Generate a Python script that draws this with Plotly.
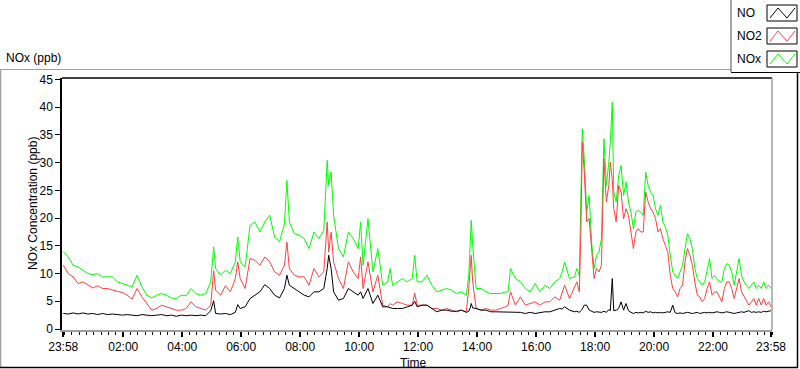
import plotly.graph_objects as go

# ---- data (minutes after 23:58 start, concentrations in ppb) ----
minutes_a = [0, 10, 20, 30, 40, 50, 60, 70, 80, 90, 100, 110, 120, 130, 140, 150, 160, 170, 180, 190,
             200, 210, 220, 230, 240, 250, 260, 270, 280, 290, 300, 306, 310, 320, 330, 340, 350, 355]
minutes_b = [360, 370, 380, 390, 400, 410, 420, 430, 440, 450, 455, 460, 470, 480, 490, 500, 510, 520, 530,
             537, 540, 545, 550, 560, 570, 580, 590, 600, 605, 610, 620, 630, 640, 650, 660, 665, 670, 680,
             690, 700, 710, 715, 720]
minutes_c = [730, 740, 750, 760, 770, 780, 790, 800, 810, 820, 825, 828, 830, 833, 840, 850, 860, 870, 880,
             890, 900, 905, 910, 920, 930, 940, 950, 960, 970, 980, 990, 1000, 1010, 1015, 1020, 1030, 1040,
             1045, 1050, 1053, 1056, 1060, 1065, 1070, 1075, 1080, 1085, 1090]
minutes_d = [1095, 1100, 1105, 1110, 1113, 1117] + list(range(1120, 1445, 5))
minutes = minutes_a + minutes_b + minutes_c + minutes_d

nox = [14.0, 13.0, 11.5, 11.2, 10.6, 10.0, 9.8, 10.0, 9.4, 9.4, 9.4, 8.5, 8.2, 7.9, 7.6, 9.7, 7.6, 6.1, 5.6, 6.1,
       6.4, 6.1, 5.6, 5.5, 6.1, 6.0, 7.3, 6.4, 6.1, 6.4, 8.5, 14.8, 10.9, 9.7, 10.6, 10.0, 12.1, 16.6,
       12.1, 11.2, 18.7, 19.3, 17.5, 19.3, 20.5, 16.6, 15.7, 19.0, 26.8, 19.3, 17.2, 16.9, 16.3, 14.5, 17.5, 16.3, 17.8,
       30.4, 25.9, 28.3, 20.5, 14.5, 13.0, 17.5, 16.3, 14.5, 19.3, 11.5, 19.9, 10.3, 14.5, 7.9, 8.5, 10.9, 7.9, 8.5,
       9.1, 8.5, 9.1, 13.3, 8.5,
       8.5, 9.7, 7.9, 6.7, 7.0, 7.3, 7.0, 6.4, 6.7, 6.1, 9.7, 14.5, 19.6, 15.1, 7.3, 7.3, 6.7, 6.4, 6.4,
       6.4, 6.7, 6.7, 10.9, 9.1, 8.5, 7.3, 6.7, 8.2, 6.7, 7.9, 7.3, 8.5, 9.1, 10.3, 12.1, 9.1, 9.4,
       10.9, 9.7, 20.5, 36.1, 30.7, 21.1, 24.1, 15.7, 10.9, 13.3, 13.9,
       16.3, 34.3, 25.9, 30.1, 33.7, 40.9,
       24.7, 22.9, 27.7, 29.5, 24.1, 26.5, 22.9, 21.1, 18.1, 21.1, 21.4, 21.1, 20.5, 28.3, 25.9, 24.7, 24.1,
       21.7, 20.5, 22.3, 19.3, 18.4, 16.9, 13.3, 10.3, 9.7, 9.1, 10.3, 11.5, 14.5, 17.2, 16.3, 14.5, 10.9,
       9.1, 8.5, 7.9, 8.5, 10.9, 12.7, 9.1, 9.7, 9.1, 8.5, 8.5, 10.9, 11.8, 11.5, 10.3, 7.9, 10.3, 12.7,
       9.7, 8.5, 7.9, 7.3, 7.9, 8.5, 7.3, 7.9, 7.3, 8.5, 7.3, 7.9, 7.3]

no2 = [11.5, 10.0, 9.4, 8.2, 8.5, 7.9, 7.4, 7.8, 7.3, 7.3, 7.0, 6.8, 6.6, 6.1, 5.4, 7.3, 5.8, 4.6, 3.4, 3.7,
       4.3, 4.0, 3.7, 3.4, 3.4, 3.7, 4.9, 4.0, 3.7, 3.4, 4.3, 10.5, 7.0, 6.1, 7.8, 6.7, 9.1, 12.1,
       9.1, 7.3, 12.7, 12.4, 11.5, 13.0, 12.1, 10.3, 9.7, 11.5, 15.7, 10.9, 9.7, 9.4, 9.4, 7.9, 10.9, 9.4, 10.3,
       19.3, 13.9, 17.5, 12.1, 9.1, 7.3, 12.1, 10.3, 9.1, 13.0, 7.3, 12.1, 6.7, 9.7, 4.3, 4.0, 4.6, 4.3, 4.9,
       4.6, 4.3, 4.3, 6.5, 4.3,
       4.3, 4.3, 3.7, 3.7, 3.4, 3.7, 3.4, 3.1, 3.4, 3.1, 7.3, 10.9, 13.3, 8.5, 3.7, 3.4, 3.7, 3.4, 3.4,
       3.7, 4.0, 4.3, 6.7, 4.3, 5.8, 4.3, 4.6, 4.9, 4.3, 4.9, 4.9, 5.8, 5.2, 6.7, 7.9, 5.5, 7.3,
       8.5, 6.7, 16.9, 33.7, 28.3, 19.3, 19.9, 14.5, 9.1, 10.9, 10.3,
       11.5, 30.7, 22.9, 25.9, 30.1, 27.0,
       21.7, 19.3, 25.9, 24.7, 19.9, 21.7, 20.5, 17.5, 14.5, 17.5, 18.1, 17.5, 17.5, 24.7, 22.9, 21.7, 21.1,
       19.9, 17.5, 18.1, 16.3, 15.1, 13.9, 9.7, 7.3, 6.7, 5.8, 7.3, 7.9, 12.1, 14.5, 13.3, 11.5, 8.5,
       6.1, 5.8, 4.9, 5.5, 7.3, 8.5, 6.1, 6.7, 6.7, 5.8, 4.9, 7.3, 8.5, 8.5, 7.3, 5.5, 7.3, 9.1,
       6.7, 5.8, 4.9, 4.3, 4.9, 5.5, 4.3, 5.5, 4.3, 5.5, 4.3, 4.9, 4.0]

no = [2.8, 2.7, 2.9, 2.7, 2.9, 2.7, 2.8, 2.6, 2.8, 2.6, 2.7, 2.6, 2.5, 2.6, 2.5, 2.4, 2.6, 2.5, 2.4, 2.5,
      2.6, 2.4, 2.5, 2.3, 2.5, 2.4, 2.5, 2.4, 2.5, 2.4, 3.3, 5.1, 2.8, 2.7, 2.8, 2.6, 3.0, 4.4,
      3.7, 4.0, 5.5, 6.1, 6.7, 8.0, 7.3, 6.1, 5.6, 7.3, 9.7, 7.9, 7.3, 6.7, 6.1, 5.8, 6.7, 6.7, 7.3,
      10.9, 13.3, 10.9, 6.7, 5.2, 5.5, 7.3, 6.7, 6.1, 6.7, 5.5, 7.3, 4.6, 6.1, 4.0, 4.0, 3.8, 3.7, 3.7,
      3.7, 4.0, 4.3, 5.0, 4.0,
      4.3, 4.3, 3.7, 3.1, 3.4, 3.4, 3.2, 3.2, 3.4, 3.0, 3.2, 3.8, 4.6, 3.8, 3.7, 3.4, 3.4, 3.1, 3.1,
      3.1, 3.0, 3.1, 3.1, 3.0, 3.0, 2.8, 3.0, 2.8, 3.0, 3.1, 3.1, 3.4, 3.7, 3.6, 4.0, 3.4, 3.1,
      3.2, 3.0, 3.3, 3.6, 4.3, 4.3, 3.4, 3.2, 3.0, 3.1, 3.0,
      3.0, 3.2, 3.0, 3.5, 3.3, 9.1,
      3.3, 3.4, 3.7, 4.9, 3.4, 4.6, 3.3, 3.0, 2.8, 3.0, 2.9, 3.0, 2.9, 3.2, 3.0, 3.1, 2.9,
      3.0, 2.9, 3.0, 2.9, 3.0, 3.1, 3.0, 4.3, 2.9, 2.8, 2.9, 2.8, 2.9, 3.0, 2.9, 2.8, 2.9,
      3.0, 2.8, 2.9, 3.0, 2.9, 3.0, 2.9, 3.0, 3.1, 3.0, 2.9, 3.0, 3.1, 3.0, 2.9, 2.8, 2.9, 3.0,
      3.1, 3.0, 3.2, 3.3, 3.0, 3.1, 3.0, 3.1, 3.0, 3.2, 3.1, 3.2, 3.3]

series_names = ["NO", "NO2", "NOx"]
series_colors = ["#000000", "#ff4040", "#00ff00"]

x_tick_minutes = [0, 122, 242, 362, 482, 602, 722, 842, 962, 1082, 1202, 1322, 1440]
x_tick_labels = ["23:58", "02:00", "04:00", "06:00", "08:00", "10:00", "12:00",
                 "14:00", "16:00", "18:00", "20:00", "22:00", "23:58"]
y_tick_values = [0, 5, 10, 15, 20, 25, 30, 35, 40, 45]

FONT = "Liberation Sans"

fig = go.Figure()
for vals, name, col in [(nox, "NOx", series_colors[2]), (no2, "NO2", series_colors[1]), (no, "NO", series_colors[0])]:
    fig.add_trace(go.Scatter(x=minutes, y=vals, mode="lines", name=name,
                             line=dict(color=col, width=1), showlegend=False))

# pixel -> paper helpers (plot area spans x 62..772, y 78..330)
L, R, T, B = 62, 772, 78, 330
def px(x):
    return (x - L) / (R - L)
def py(y):
    return (B - y) / (B - T)

shapes = []
def line(x0, y0, x1, y1, color, width=1):
    shapes.append(dict(type="line", xref="paper", yref="paper", x0=px(x0), y0=py(y0),
                       x1=px(x1), y1=py(y1), line=dict(color=color, width=width)))

# plot box: top black, right gray
line(L, T, R, T, "#000000", 1.5)
line(R, T, R, B, "#a0a0a0", 1.5)
# outer frame
line(0, 69.5, 731, 69.5, "#a0a0a0", 1)
line(0.5, 69.5, 0.5, 368, "#a0a0a0", 1.5)
line(0, 367.5, 798, 367.5, "#000000", 1.5)
line(797.5, 72, 797.5, 368, "#000000", 1.5)
# legend box
line(731, 0, 731, 72, "#505050", 1)
line(731, 72.5, 800, 72.5, "#000000", 1)

annotations = []
legend_rows = [(13, 5, 21), (36, 28, 44), (59, 51, 67)]
for (cy, top, bot), name, col in zip(legend_rows, series_names, series_colors):
    shapes.append(dict(type="rect", xref="paper", yref="paper", x0=px(767), x1=px(797),
                       y0=py(bot), y1=py(top), line=dict(color="#000000", width=1),
                       fillcolor="#ffffff"))
    pts = [(770, bot - 3), (778, top + 3), (787, bot - 3), (795, top + 3)]
    path = "M " + " L ".join(f"{px(a)},{py(b)}" for a, b in pts)
    shapes.append(dict(type="path", xref="paper", yref="paper", path=path,
                       line=dict(color=col, width=1)))
    annotations.append(dict(x=px(735), y=py(cy), xref="paper", yref="paper", text=name,
                            showarrow=False, xanchor="left", yanchor="middle",
                            font=dict(family=FONT, size=12, color="#000000")))

annotations.append(dict(x=px(4), y=py(58), xref="paper", yref="paper", text="NOx (ppb)",
                        showarrow=False, xanchor="left", yanchor="middle",
                        font=dict(family=FONT, size=12, color="#000000")))
annotations.append(dict(x=px(33), y=py(204), xref="paper", yref="paper",
                        text="NOx Concentration (ppb)", textangle=-90,
                        showarrow=False, xanchor="center", yanchor="middle",
                        font=dict(family=FONT, size=12, color="#000000")))
annotations.append(dict(x=px(413), y=py(362.5), xref="paper", yref="paper", text="Time",
                        showarrow=False, xanchor="center", yanchor="middle",
                        font=dict(family=FONT, size=12, color="#000000")))

fig.update_layout(
    width=800, height=369,
    margin=dict(l=L, r=800 - R, t=T, b=369 - B, pad=0),
    paper_bgcolor="#ffffff", plot_bgcolor="#ffffff",
    font=dict(family=FONT, size=12, color="#000000"),
    shapes=shapes, annotations=annotations,
    xaxis=dict(range=[-2.6, 1442], tickmode="array", tickvals=x_tick_minutes, ticktext=x_tick_labels,
               ticks="outside", ticklen=5, tickcolor="#000000", tickwidth=1.5,
               showline=True, linecolor="#a0a0a0", linewidth=1.5, showgrid=False, zeroline=False,
               tickfont=dict(family=FONT, size=12, color="#000000"),
               minor=dict(tickmode="linear", tick0=2, dtick=15, ticks="outside", ticklen=3,
                          tickcolor="#000000", tickwidth=1, showgrid=False)),
    yaxis=dict(range=[-0.18, 45.27], tickmode="array", tickvals=y_tick_values,
               ticks="outside", ticklen=5, tickcolor="#000000", tickwidth=1,
               showline=True, linecolor="#000000", linewidth=1.5, showgrid=False, zeroline=False,
               tickfont=dict(family=FONT, size=12, color="#000000")),
)

fig.write_html("out.html", config={"displayModeBar": False},
               post_script="document.body.style.margin='0';document.body.style.overflow='hidden';")
